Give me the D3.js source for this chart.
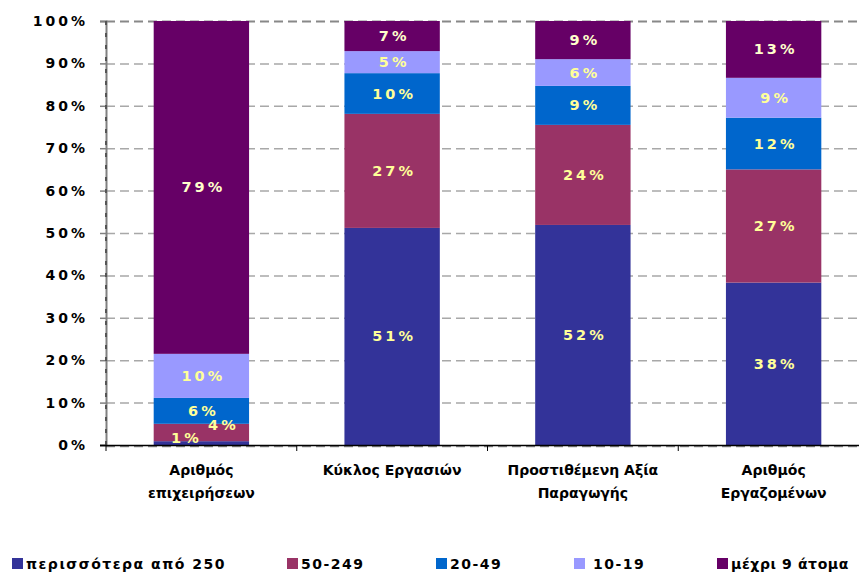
<!DOCTYPE html>
<html>
<head>
<meta charset="utf-8">
<script src="https://cdn.jsdelivr.net/npm/d3@7"></script>
<style>
  body { margin: 0; background: #fff; }
  svg { display: block; }
  text { font-family: "DejaVu Sans", Verdana, sans-serif; font-weight: bold; }
</style>
</head>
<body>
<div id="chart"></div>
<script>
// categories (two-line labels)
let categories = ["Αριθμός επιχειρήσεων", "Κύκλος Εργασιών", "Προστιθέμενη Αξία Παραγωγής", "Αριθμός Εργαζομένων"];
let category_lines = [["Αριθμός", "επιχειρήσεων"], ["Κύκλος Εργασιών"], ["Προστιθέμενη Αξία", "Παραγωγής"], ["Αριθμός", "Εργαζομένων"]];

// series, bottom to top (shares in %)
let series_names = ["περισσότερα από 250", "50-249", "20-49", "10-19", "μέχρι 9 άτομα"];
let over_250  = [0.9, 51.2, 51.9, 38.3];
let s_50_249  = [4.1, 26.9, 23.6, 26.7];
let s_20_49   = [6.1, 9.6, 9.2, 12.2];
let s_10_19   = [10.4, 5.2, 6.3, 9.4];
let up_to_9   = [78.5, 7.1, 9.0, 13.4];

let y_ticks = [0, 10, 20, 30, 40, 50, 60, 70, 80, 90, 100];

let colors = ["#333399", "#993366", "#0066CC", "#9999FF", "#660066"];
let label_colors = ["#FFFF99", "#FFFF99", "#FFFF99", "#FFFF99", "#FFFFCC"];

let width = 859, height = 573;
let plot = {left: 106, right: 869, top: 21, bottom: 445};

let svg = d3.select("#chart").append("svg")
    .attr("width", width)
    .attr("height", height);

let x = d3.scaleBand()
    .domain(categories)
    .range([plot.left, plot.right])
    .paddingInner(0.5)
    .paddingOuter(0.25);

let y = d3.scaleLinear()
    .domain([0, 100])
    .range([plot.bottom, plot.top]);

// build table for the stack
let all_series = [over_250, s_50_249, s_20_49, s_10_19, up_to_9];
let table = categories.map(function(c, i) {
    let row = {category: c};
    series_names.forEach(function(s, j) { row[s] = all_series[j][i]; });
    return row;
});
let stacked = d3.stack().keys(series_names)(table);

// gridlines
svg.append("g")
    .selectAll("line")
    .data(y_ticks.filter(d => d > 0))
    .enter().append("line")
    .attr("x1", plot.left)
    .attr("x2", plot.right)
    .attr("y1", d => y(d) + 0.5)
    .attr("y2", d => y(d) + 0.5)
    .attr("stroke", d => d == 100 ? "#888888" : "#a8a8a8")
    .attr("stroke-width", d => d == 100 ? 2 : 1.5)
    .attr("stroke-dasharray", "9,5");

// bottom dashed border
svg.append("line")
    .attr("x1", plot.left).attr("x2", plot.right)
    .attr("y1", plot.bottom + 1.5).attr("y2", plot.bottom + 1.5)
    .attr("stroke", "#888888")
    .attr("stroke-width", 1.5)
    .attr("stroke-dasharray", "9,5");

// bars
let groups = svg.append("g").selectAll("g")
    .data(stacked)
    .enter().append("g")
    .attr("fill", (d, i) => colors[i]);

groups.selectAll("rect")
    .data(d => d)
    .enter().append("rect")
    .attr("x", d => x(d.data.category))
    .attr("width", x.bandwidth())
    .attr("y", d => y(d[1]))
    .attr("height", d => y(d[0]) - y(d[1]));

// y axis
let y_axis = svg.append("g")
    .attr("transform", "translate(" + plot.left + ",0)")
    .call(d3.axisLeft(y).tickValues(y_ticks).tickSize(6).tickPadding(12).tickFormat(d => d + "%"));
y_axis.select(".domain").attr("stroke", "#808080").attr("stroke-width", 2);
y_axis.selectAll(".tick line").attr("stroke", "#808080").attr("stroke-width", 1.5);
y_axis.selectAll(".tick text")
    .attr("fill", "#000")
    .style("font-size", "14px")
    .style("letter-spacing", "3px");

// dark dashes on y axis
svg.append("line")
    .attr("x1", plot.left).attr("x2", plot.left)
    .attr("y1", plot.top).attr("y2", plot.bottom)
    .attr("stroke", "#555555")
    .attr("stroke-width", 2)
    .attr("stroke-dasharray", "4,8");

// x axis line with ticks at category boundaries
svg.append("line")
    .attr("x1", plot.left - 6).attr("x2", plot.right)
    .attr("y1", plot.bottom + 0.5).attr("y2", plot.bottom + 0.5)
    .attr("stroke", "#000")
    .attr("stroke-width", 1.5);
svg.append("g").selectAll("line")
    .data(d3.range(categories.length + 1))
    .enter().append("line")
    .attr("x1", i => plot.left + i * x.step())
    .attr("x2", i => plot.left + i * x.step())
    .attr("y1", plot.bottom)
    .attr("y2", plot.bottom + 6)
    .attr("stroke", "#000")
    .attr("stroke-width", 1);

// category labels
let cat_labels = svg.append("g").selectAll("text")
    .data(categories)
    .enter().append("text")
    .attr("x", d => x(d) + x.bandwidth() / 2)
    .attr("y", 475)
    .attr("text-anchor", "middle")
    .style("font-size", "14px")
    .attr("fill", "#000");
cat_labels.each(function(d, i) {
    let lines = category_lines[i];
    d3.select(this).selectAll("tspan")
        .data(lines)
        .enter().append("tspan")
        .attr("x", x(d) + x.bandwidth() / 2)
        .attr("dy", (l, k) => k == 0 ? 0 : 23)
        .text(l => l);
});

// value labels (two small ones in the first bar were moved aside)
let nudges = {"0_0": [-17, -5], "1_0": [20, -7]};
stacked.forEach(function(s, si) {
    svg.append("g").selectAll("text")
        .data(s)
        .enter().append("text")
        .attr("x", function(d, ci) {
            let n = nudges[si + "_" + ci];
            return x(d.data.category) + x.bandwidth() / 2 + (n ? n[0] : 0) + 2;
        })
        .attr("y", function(d, ci) {
            let n = nudges[si + "_" + ci];
            return (y(d[0]) + y(d[1])) / 2 + (n ? n[1] : 0) + 5;
        })
        .attr("text-anchor", "middle")
        .attr("fill", label_colors[si])
        .style("font-size", "14.5px")
        .style("letter-spacing", "3px")
        .text(d => Math.round(d[1] - d[0]) + "%");
});

// legend
let legend_x = [12, 287, 436, 574, 717];
let legend = svg.append("g").selectAll("g")
    .data(series_names)
    .enter().append("g")
    .attr("transform", (d, i) => "translate(" + legend_x[i] + ",558)");
legend.append("rect")
    .attr("width", 11)
    .attr("height", 11)
    .attr("fill", (d, i) => colors[i]);
legend.append("text")
    .attr("x", (d, i) => i == 3 ? 19 : 14)
    .attr("y", 11)
    .attr("fill", "#000")
    .style("font-size", "14px")
    .style("letter-spacing", (d, i) => i == 4 ? "0.6px" : "1.5px")
    .text(d => d);
</script>
</body>
</html>
